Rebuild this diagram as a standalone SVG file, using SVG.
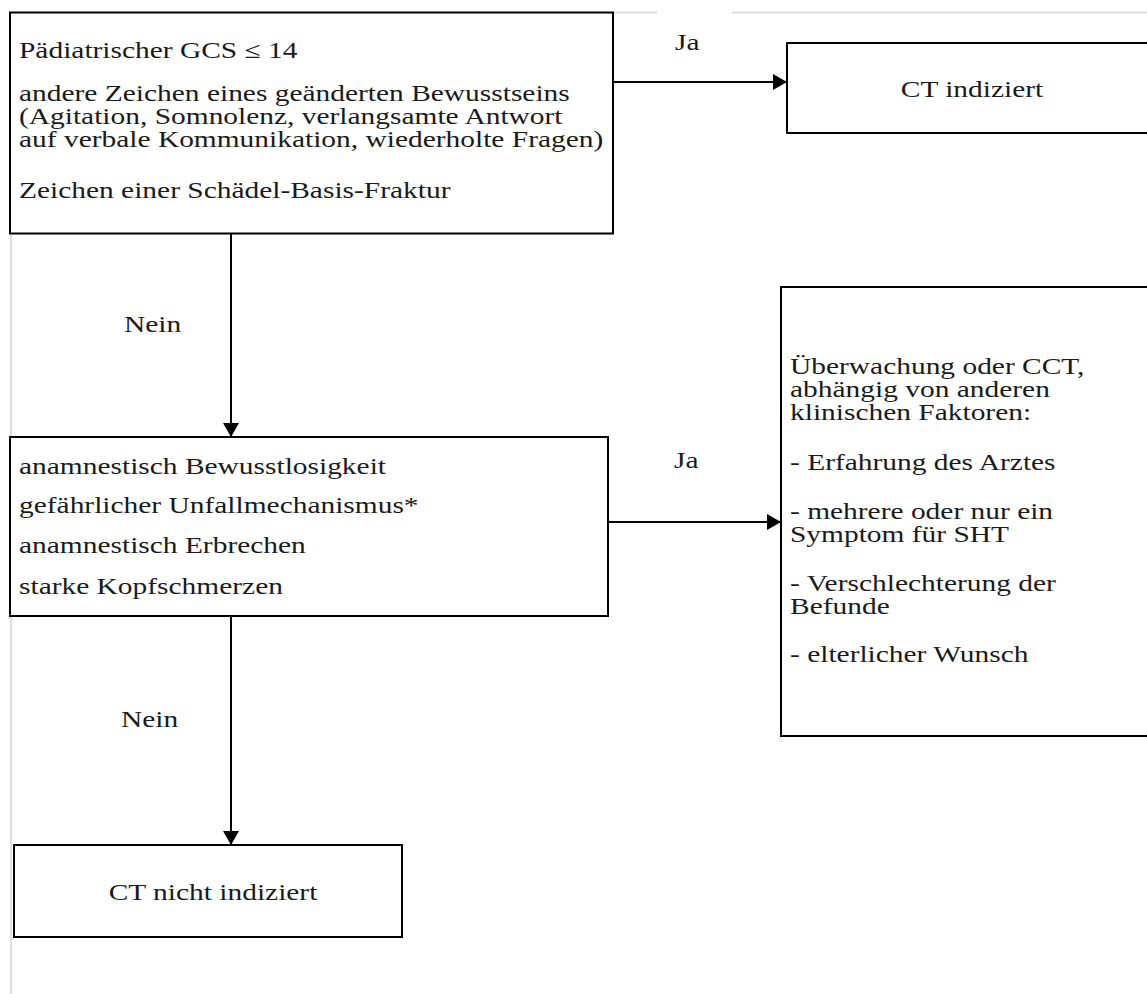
<svg xmlns="http://www.w3.org/2000/svg" width="1147" height="994" viewBox="0 0 1147 994">
<defs>
<style>
.box{fill:#fff;stroke:#000;stroke-width:2}
.t{font-family:"Liberation Serif","Times New Roman",serif;font-size:23px;fill:#1a1a1a}
.c{text-anchor:middle}
.ln{stroke:#000;stroke-width:2;fill:none}
.faint{stroke:#d4d4d4;stroke-width:1.5;fill:none}
</style>
<marker id="ah" markerWidth="14" markerHeight="16" refX="14" refY="8" orient="auto" markerUnits="userSpaceOnUse">
<path d="M0,0 L14,8 L0,16 z" fill="#000"/>
</marker>
</defs>
<rect width="1147" height="994" fill="#fff"/>
<g id="frame">
<line class="faint" x1="613" y1="12.5" x2="657" y2="12.5"/>
<line class="faint" x1="732" y1="12.5" x2="1147" y2="12.5"/>
<line class="faint" x1="11" y1="234" x2="11" y2="994"/>
</g>
<g id="connectors">
<line class="ln" x1="613" y1="82" x2="787" y2="82" marker-end="url(#ah)"/>
<line class="ln" x1="231" y1="234" x2="231" y2="437" marker-end="url(#ah)"/>
<line class="ln" x1="608" y1="522" x2="781" y2="522" marker-end="url(#ah)"/>
<line class="ln" x1="231" y1="616" x2="231" y2="845" marker-end="url(#ah)"/>
<text class="t" transform="translate(675,50) scale(1.28,1)">Ja</text>
<text class="t" transform="translate(124,332) scale(1.28,1)">Nein</text>
<text class="t" transform="translate(674,468) scale(1.28,1)">Ja</text>
<text class="t" transform="translate(121,727) scale(1.28,1)">Nein</text>
</g>
<g id="node1">
<rect class="box" x="10" y="12.5" width="603" height="221"/>
<text class="t" transform="translate(19,58) scale(1.28,1)">Pädiatrischer GCS ≤ 14</text>
<text class="t" transform="translate(19,101) scale(1.28,1)">andere Zeichen eines geänderten Bewusstseins</text>
<text class="t" transform="translate(19,124) scale(1.28,1)">(Agitation,  Somnolenz, verlangsamte Antwort</text>
<text class="t" transform="translate(19,147) scale(1.28,1)">auf verbale Kommunikation, wiederholte Fragen)</text>
<text class="t" transform="translate(19,198) scale(1.28,1)">Zeichen einer Schädel-Basis-Fraktur</text>
</g>
<g id="node2">
<rect class="box" x="787" y="43" width="370" height="90"/>
<text class="t c" transform="translate(972,97) scale(1.28,1)">CT indiziert</text>
</g>
<g id="node3">
<rect class="box" x="10" y="437" width="598" height="179"/>
<text class="t" transform="translate(19,474) scale(1.28,1)">anamnestisch Bewusstlosigkeit</text>
<text class="t" transform="translate(19,513) scale(1.28,1)">gefährlicher Unfallmechanismus*</text>
<text class="t" transform="translate(19,553) scale(1.28,1)">anamnestisch Erbrechen</text>
<text class="t" transform="translate(19,594) scale(1.28,1)">starke Kopfschmerzen</text>
</g>
<g id="node4">
<rect class="box" x="781" y="287" width="370" height="449"/>
<text class="t" transform="translate(790,374) scale(1.28,1)">Überwachung oder CCT,</text>
<text class="t" transform="translate(790,397) scale(1.28,1)">abhängig von anderen</text>
<text class="t" transform="translate(790,420) scale(1.28,1)">klinischen Faktoren:</text>
<text class="t" transform="translate(790,470) scale(1.28,1)">- Erfahrung des Arztes</text>
<text class="t" transform="translate(790,519) scale(1.28,1)">- mehrere oder nur ein</text>
<text class="t" transform="translate(790,542) scale(1.28,1)">Symptom für SHT</text>
<text class="t" transform="translate(790,591) scale(1.28,1)">- Verschlechterung der</text>
<text class="t" transform="translate(790,614) scale(1.28,1)">Befunde</text>
<text class="t" transform="translate(790,662) scale(1.28,1)">- elterlicher Wunsch</text>
</g>
<g id="node5">
<rect class="box" x="14" y="845" width="388" height="92"/>
<text class="t c" transform="translate(213,900) scale(1.28,1)">CT nicht indiziert</text>
</g>
</svg>
